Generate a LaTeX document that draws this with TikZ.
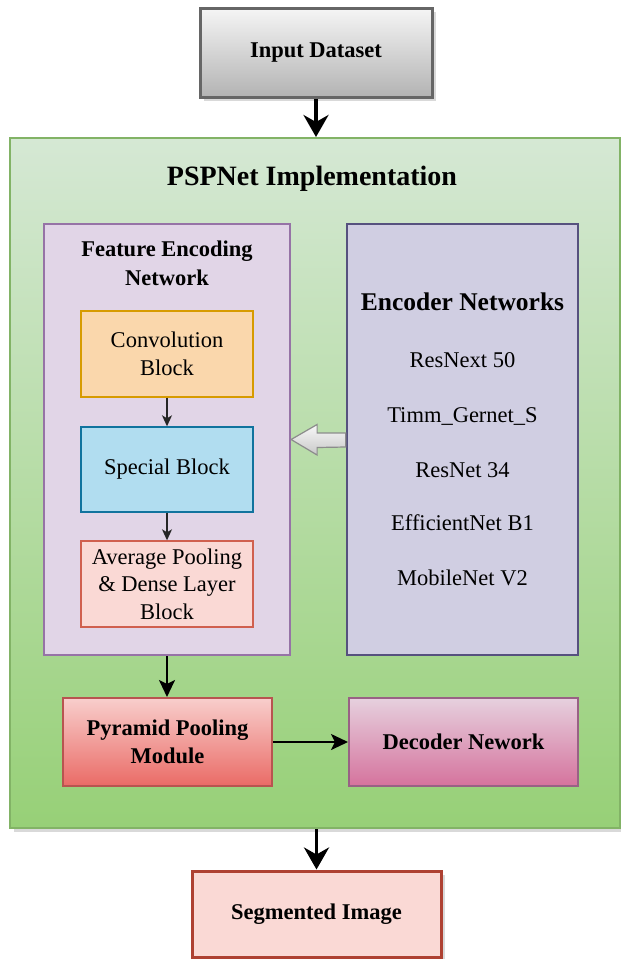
\documentclass[tikz,border=0pt]{standalone}
\usepackage{fontspec}
\setmainfont{Liberation Serif}
\newfontfamily\tnrfont{Liberation Serif}
\usetikzlibrary{arrows.meta,shadows,calc}
\definecolor{inbrd}{HTML}{666666}
\definecolor{intop}{HTML}{F5F5F5}
\definecolor{inbot}{HTML}{B3B3B3}
\definecolor{grtop}{HTML}{D5E8D4}
\definecolor{grbot}{HTML}{97D077}
\definecolor{grbrd}{HTML}{82B366}
\definecolor{ftfill}{HTML}{E1D5E7}
\definecolor{ftbrd}{HTML}{9673A6}
\definecolor{enfill}{HTML}{D0CEE2}
\definecolor{enbrd}{HTML}{56517E}
\definecolor{cvfill}{HTML}{FAD7AC}
\definecolor{cvbrd}{HTML}{D79B00}
\definecolor{spfill}{HTML}{B1DDF0}
\definecolor{spbrd}{HTML}{10739E}
\definecolor{avfill}{HTML}{FAD9D5}
\definecolor{avbrd}{HTML}{D0604F}
\definecolor{pptop}{HTML}{F8CECC}
\definecolor{ppbot}{HTML}{EA6B66}
\definecolor{ppbrd}{HTML}{B85450}
\definecolor{dctop}{HTML}{E6D0DE}
\definecolor{dcbot}{HTML}{D5739D}
\definecolor{dcbrd}{HTML}{996185}
\definecolor{sgfill}{HTML}{FAD9D5}
\definecolor{sgbrd}{HTML}{AE4132}
\definecolor{artop}{HTML}{F8F8F8}
\definecolor{arbot}{HTML}{C8C8C8}
\definecolor{arbrd}{HTML}{8C8C8C}
\newcommand{\basefs}{\tnrfont\fontsize{22.5}{27.5}\selectfont}
\tikzset{
  box/.style={rectangle, inner sep=2pt, align=center, font=\basefs},
  shad/.style={drop shadow={shadow xshift=4pt, shadow yshift=-4pt, opacity=0.25, fill=black!60}},
  inbox/.style={box, shad, draw=inbrd, line width=3pt, top color=intop, bottom color=inbot,
    minimum width=232pt, minimum height=89pt, font=\basefs\bfseries},
  grnbox/.style={box, shad, draw=grbrd, line width=2pt, top color=grtop, bottom color=grbot,
    minimum width=610pt, minimum height=690pt},
  featbox/.style={box, draw=ftbrd, fill=ftfill, line width=2.2pt, minimum width=246pt, minimum height=431pt},
  encbox/.style={box, draw=enbrd, fill=enfill, line width=2.5pt, minimum width=231pt, minimum height=431pt},
  convbox/.style={box, draw=cvbrd, fill=cvfill, line width=1.4pt, minimum width=172pt, minimum height=86pt},
  specbox/.style={box, draw=spbrd, fill=spfill, line width=1.4pt, minimum width=172pt, minimum height=85pt},
  avgbox/.style={box, draw=avbrd, fill=avfill, line width=1.4pt, minimum width=172pt, minimum height=86pt},
  ppmbox/.style={box, draw=ppbrd, top color=pptop, bottom color=ppbot, line width=2pt,
    minimum width=209pt, minimum height=88pt, font=\basefs\bfseries},
  decbox/.style={box, draw=dcbrd, top color=dctop, bottom color=dcbot, line width=2pt,
    minimum width=229pt, minimum height=88pt, font=\basefs\bfseries},
  segbox/.style={box, shad, draw=sgbrd, fill=sgfill, line width=3pt,
    minimum width=249pt, minimum height=86pt, font=\basefs\bfseries},
  txt/.style={inner sep=0pt, align=center, font=\basefs},
  btxt/.style={txt, font=\basefs\bfseries},
  bigarr/.style={draw=black, line width=3.5pt, -{Stealth[length=22pt,width=25pt,inset=7pt]}},
  midarr/.style={draw=black, line width=2.4pt, -{Stealth[length=17pt,width=16pt,inset=4pt]}},
  smlarr/.style={draw=black!85, line width=1.4pt, -{Stealth[length=11pt,width=10pt,inset=3pt]}},
  hollow/.style={draw=arbrd, line width=1.2pt, top color=artop, bottom color=arbot, line join=miter}
}
\begin{document}
\begin{tikzpicture}[x=1pt,y=-1pt]
\useasboundingbox (0,0) rectangle (621,959);
% top input
\node[inbox] (inp) at (316,52.5) {Input Dataset};
% container
\node[grnbox] (grn) at (315,483) {};
\node[btxt, font=\tnrfont\fontsize{28}{32}\selectfont\bfseries] (ttl) at (312,179) {PSPNet Implementation};
% feature encoding network
\node[featbox] (feat) at (167,439.5) {};
\node[btxt, font=\tnrfont\fontsize{22.5}{29}\selectfont\bfseries] (ftl) at (167,263) {Feature Encoding\\Network};
\node[convbox] (conv) at (167,354) {Convolution\\Block};
\node[specbox] (spec) at (167,469.5) {Special Block};
\node[avgbox] (avg) at (167,584) {Average Pooling\\\& Dense Layer\\Block};
% encoder networks
\node[encbox] (enc) at (462.5,439.5) {};
\node[btxt, font=\tnrfont\fontsize{25.5}{30}\selectfont\bfseries] (etl) at (462.5,302) {Encoder Networks};
\node[txt] (e1) at (462.5,360) {ResNext 50};
\node[txt] (e2) at (462.5,416) {Timm\_Gernet\_S};
\node[txt] (e3) at (462.5,470) {ResNet 34};
\node[txt] (e4) at (462.5,523) {EfficientNet B1};
\node[txt] (e5) at (462.5,578) {MobileNet V2};
% bottom modules
\node[ppmbox] (ppm) at (167.5,742) {Pyramid Pooling\\Module};
\node[decbox] (dec) at (463.5,742) {Decoder Nework};
\node[segbox] (seg) at (316.5,914) {Segmented Image};
% connectors
\draw[bigarr] (inp.south) -- (inp.south |- grn.north);
\draw[smlarr] (conv.south) -- (spec.north);
\draw[smlarr] (spec.south) -- (avg.north);
\draw[midarr] (feat.south) -- (feat.south |- ppm.north);
\draw[midarr] (ppm.east) -- (dec.west);
\draw[bigarr] (seg.north |- grn.south) -- (seg.north);
% hollow block arrow from encoder networks to feature encoding network
\path[hollow] (feat.east) -- ++(26,-15) -- ++(0,8.5) -- ([yshift=6.5pt]enc.west)
  -- ([yshift=-7.5pt]enc.west) -- ($(feat.east)+(26,8)$) -- ($(feat.east)+(26,15.5)$) -- cycle;
\end{tikzpicture}
\end{document}
